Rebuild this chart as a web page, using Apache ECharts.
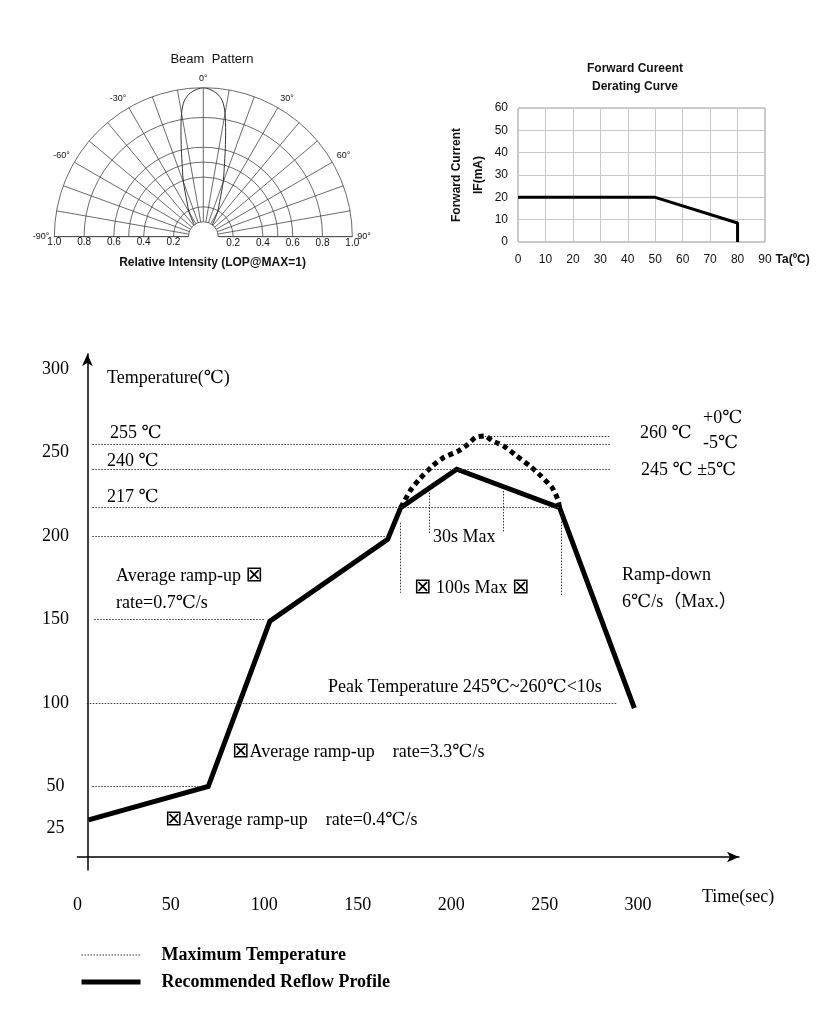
<!DOCTYPE html>
<html><head><meta charset="utf-8">
<script src="https://cdn.jsdelivr.net/npm/echarts@6/dist/echarts.min.js"></script>
<style>html,body{margin:0;padding:0;background:#fff}#c{width:830px;height:1028px}</style>
</head><body><div id="c"></div>
<script>
// ---------- Beam pattern ----------
const beamAngles = [-90,-60,-45,-36,-30,-25,-20,-17,-14,-12,-10,-8,-5,0,5,8,10,12,14,17,20,25,30,36,45,60,90];
const beamIntensity = [0,0.02,0.06,0.11,0.19,0.26,0.39,0.48,0.61,0.72,0.84,0.92,0.97,1.0,0.97,0.92,0.84,0.72,0.61,0.48,0.39,0.26,0.19,0.11,0.06,0.02,0];
const beamAngleLabels = [-90,-60,-30,0,30,60,90];
const beamRadiusRings = [0.1,0.2,0.4,0.5,0.6,0.8,1.0];
const beamRadiusLabels = [0.2,0.4,0.6,0.8,1.0];

// ---------- Forward current derating ----------
const derateTa = [0,50,80,80];
const derateIF = [20,20,8.5,0];

// ---------- Reflow profile ----------
const reflowTime = [6,70,103,166,173,203,258,298];
const reflowTemp = [30,50,149,198,217,240,217,97];
const maxTime = [173,175,178,183,190,196,204,209,213,218,222,228,235,242,248,254,257,258];
const maxTemp = [217,221,227,234,242,247,251,255,259,260,257,254,248,242,236,229,222,217];
const timeTicks = [0,50,100,150,200,250,300];
const tempTicks = [25,50,100,150,200,250,300];
// guide lines: [time1, temp1, time2, temp2]
const guideLines = [
  [218,260,285,260],
  [8,255,285,255],
  [8,240,285,240],
  [8,217,258,217],
  [8,200,166,200],
  [9,150,100,150],
  [5,100,289,100],
  [8,50,66,50],
  [172.5,208,172.5,166],
  [259,214,259,164],
  [188,226,188,201],
  [228,227,228,202]
];

const SERIF = '"Liberation Serif","DejaVu Serif","Noto Sans CJK SC",serif';
const SANS = '"Liberation Sans",Arial,sans-serif';
const gridCol = '#444';
const boxRich = {b:{fontSize:21, fontFamily:'"DejaVu Sans",sans-serif', fill:'#000'}};

function txt(text, x, y, extra) {
  return {type:'text', x:x, y:y, silent:true,
    style:Object.assign({text:text, fill:'#000', fontSize:18, fontFamily:SERIF,
      align:'left', verticalAlign:'middle', rich:boxRich}, extra || {})};
}

const chart = echarts.init(document.getElementById('c'), null, {renderer:'canvas'});
chart.setOption({
  animation:false,
  backgroundColor:'#fff',
  title:[
    {text:'Beam  Pattern', left:212, top:53, textAlign:'center', padding:0,
      textStyle:{fontSize:13, fontWeight:'normal', fontFamily:SANS, color:'#111'}},
    {text:'Relative Intensity (LOP@MAX=1)', left:212.5, top:257, textAlign:'center', padding:0,
      textStyle:{fontSize:12, fontWeight:'bold', fontFamily:SANS, color:'#111'}},
    {text:'Forward Cureent\nDerating Curve', left:635, top:60, textAlign:'center', padding:0,
      textStyle:{fontSize:12, fontWeight:'bold', fontFamily:SANS, color:'#111', lineHeight:18}}
  ],
  legend:{
    orient:'vertical', left:79, top:946, padding:0, itemWidth:59, itemHeight:14, itemGap:9,
    selectedMode:false,
    itemStyle:{opacity:0, borderWidth:0},
    data:[
      {name:'Maximum Temperature', lineStyle:{width:1, type:[1.5,1.5]}, itemStyle:{opacity:0}},
      {name:'Recommended Reflow Profile', lineStyle:{width:5}, itemStyle:{opacity:0}}
    ],
    textStyle:{fontFamily:SERIF, fontSize:18, fontWeight:'bold', color:'#000', lineHeight:18, padding:[0,0,0,16]}
  },
  polar:[
    {center:[203.3,236.7], radius:[15,149]},
    {center:[203.3,236.7], radius:[15,149]}
  ],
  angleAxis:[
    {polarIndex:0, type:'value', min:-90, max:90, interval:10, startAngle:180, endAngle:0, clockwise:true,
      axisLine:{show:false},
      axisTick:{show:false},
      splitLine:{show:true, lineStyle:{color:gridCol, width:0.8}},
      axisLabel:{customValues:beamAngleLabels, formatter:function(v){return v+'°';},
        fontSize:9, fontFamily:SANS, color:'#111', margin:5}},
    {polarIndex:1, type:'value', min:-90, max:90, startAngle:0, endAngle:180, clockwise:false, show:false}
  ],
  radiusAxis:[
    {polarIndex:0, type:'value', min:0.1, max:1,
      axisLine:{show:true, lineStyle:{color:gridCol, width:0.8}},
      axisTick:{show:false, customValues:beamRadiusRings},
      splitLine:{show:true, lineStyle:{color:gridCol, width:0.8}},
      axisLabel:{customValues:beamRadiusLabels, formatter:function(v){return v.toFixed(1);},
        fontSize:10, fontFamily:SANS, color:'#111', margin:1}},
    {polarIndex:1, type:'value', min:0.1, max:1,
      axisLine:{show:true, lineStyle:{color:gridCol, width:0.8}},
      axisTick:{show:false}, splitLine:{show:false},
      axisLabel:{customValues:beamRadiusLabels, formatter:function(v){return v.toFixed(1);},
        fontSize:10, fontFamily:SANS, color:'#111', margin:-12}}
  ],
  grid:[
    {left:77.4, right:91, top:354, bottom:158, outerBoundsMode:'none', containLabel:false},
    {left:518, top:108, width:247, height:134, show:true, borderColor:'#999', borderWidth:1,
      outerBoundsMode:'none', containLabel:false}
  ],
  xAxis:[
    {gridIndex:0, type:'value', min:0, max:354, offset:-13,
      axisLine:{onZero:false, symbol:['none','arrow'], symbolSize:[8,12], lineStyle:{color:'#000', width:1.5}},
      axisTick:{show:false}, splitLine:{show:false},
      axisLabel:{customValues:timeTicks, margin:39, fontSize:18, fontFamily:SERIF, color:'#000'}},
    {gridIndex:1, type:'value', min:0, max:90, interval:10,
      axisLine:{show:false}, axisTick:{show:false},
      splitLine:{show:true, lineStyle:{color:'#c8c8c8', width:1}},
      axisLabel:{margin:12, fontSize:12, fontFamily:SANS, color:'#111'},
      name:'\n\nTa(ºC)', nameLocation:'end', nameGap:6,
      nameTextStyle:{fontSize:12, fontWeight:'bold', fontFamily:SANS, color:'#111', lineHeight:18, verticalAlign:'middle'}}
  ],
  yAxis:[
    {gridIndex:0, type:'value', min:0, max:309, offset:-10,
      axisLine:{onZero:false, symbol:['none','arrow'], symbolSize:[8,12], lineStyle:{color:'#000', width:1.5}},
      axisTick:{show:false}, splitLine:{show:false},
      axisLabel:{customValues:tempTicks, margin:32, align:'center', fontSize:18, fontFamily:SERIF, color:'#000'}},
    {gridIndex:1, type:'value', min:0, max:60, interval:10,
      axisLine:{show:false}, axisTick:{show:false},
      splitLine:{show:true, lineStyle:{color:'#c8c8c8', width:1}},
      axisLabel:{margin:10, fontSize:12, fontFamily:SANS, color:'#111'},
      name:'Forward Current\nIF(mA)', nameLocation:'middle', nameGap:28,
      nameTextStyle:{fontSize:12, fontWeight:'bold', fontFamily:SANS, color:'#111', lineHeight:22}}
  ],
  series:[
    {name:'Beam', type:'line', coordinateSystem:'polar', polarIndex:0, clip:false,
      data:beamAngles.map(function(a,i){return [beamIntensity[i], a];}),
      symbol:'none', smooth:0.3, lineStyle:{color:'#333', width:1}},
    {name:'Derating', type:'line', xAxisIndex:1, yAxisIndex:1,
      data:derateTa.map(function(x,i){return [x, derateIF[i]];}),
      symbol:'none', lineStyle:{color:'#000', width:3}},
    {name:'Maximum Temperature', type:'line', xAxisIndex:0, yAxisIndex:0, data:[],
      symbol:'none', color:'#333', lineStyle:{color:'#333', width:1, type:[1.5,1.5]},
      markLine:{silent:true, symbol:['none','none'], label:{show:false},
        lineStyle:{color:'#333', width:1, type:[1.5,1.5]},
        emphasis:{disabled:true},
        data:guideLines.map(function(g){return [{coord:[g[0],g[1]]},{coord:[g[2],g[3]]}];})}},
    {name:'Max Profile', type:'line', xAxisIndex:0, yAxisIndex:0,
      data:maxTime.map(function(t,i){return [t, maxTemp[i]];}),
      symbol:'none', smooth:0.2, lineStyle:{color:'#000', width:5, type:[5,4]}},
    {name:'Recommended Reflow Profile', type:'line', xAxisIndex:0, yAxisIndex:0,
      data:reflowTime.map(function(t,i){return [t, reflowTemp[i]];}),
      symbol:'none', color:'#000', lineStyle:{color:'#000', width:5, join:'miter'}}
  ],
  graphic:[
    txt('Temperature(℃)', 107, 378),
    txt('255 ℃', 110, 433),
    txt('240 ℃', 107, 461),
    txt('217 ℃', 107, 497),
    txt('260 ℃', 640, 433),
    txt('+0℃', 703, 418),
    txt('-5℃', 703, 443),
    txt('245 ℃ ±5℃', 641, 470),
    txt('30s Max', 433, 537),
    txt('{b|⊠} 100s Max {b|⊠}', 414, 588),
    txt('Ramp-down', 622, 575),
    txt('6℃/s（Max.）', 622, 602),
    txt('Average ramp-up {b|⊠}', 116, 576),
    txt('rate=0.7℃/s', 116, 603),
    txt('Peak Temperature 245℃~260℃<10s', 328, 687),
    txt('{b|⊠}Average ramp-up    rate=3.3℃/s', 232, 752),
    txt('{b|⊠}Average ramp-up    rate=0.4℃/s', 165, 820),
    txt('Time(sec)', 702, 897)
  ]
});
</script></body></html>
